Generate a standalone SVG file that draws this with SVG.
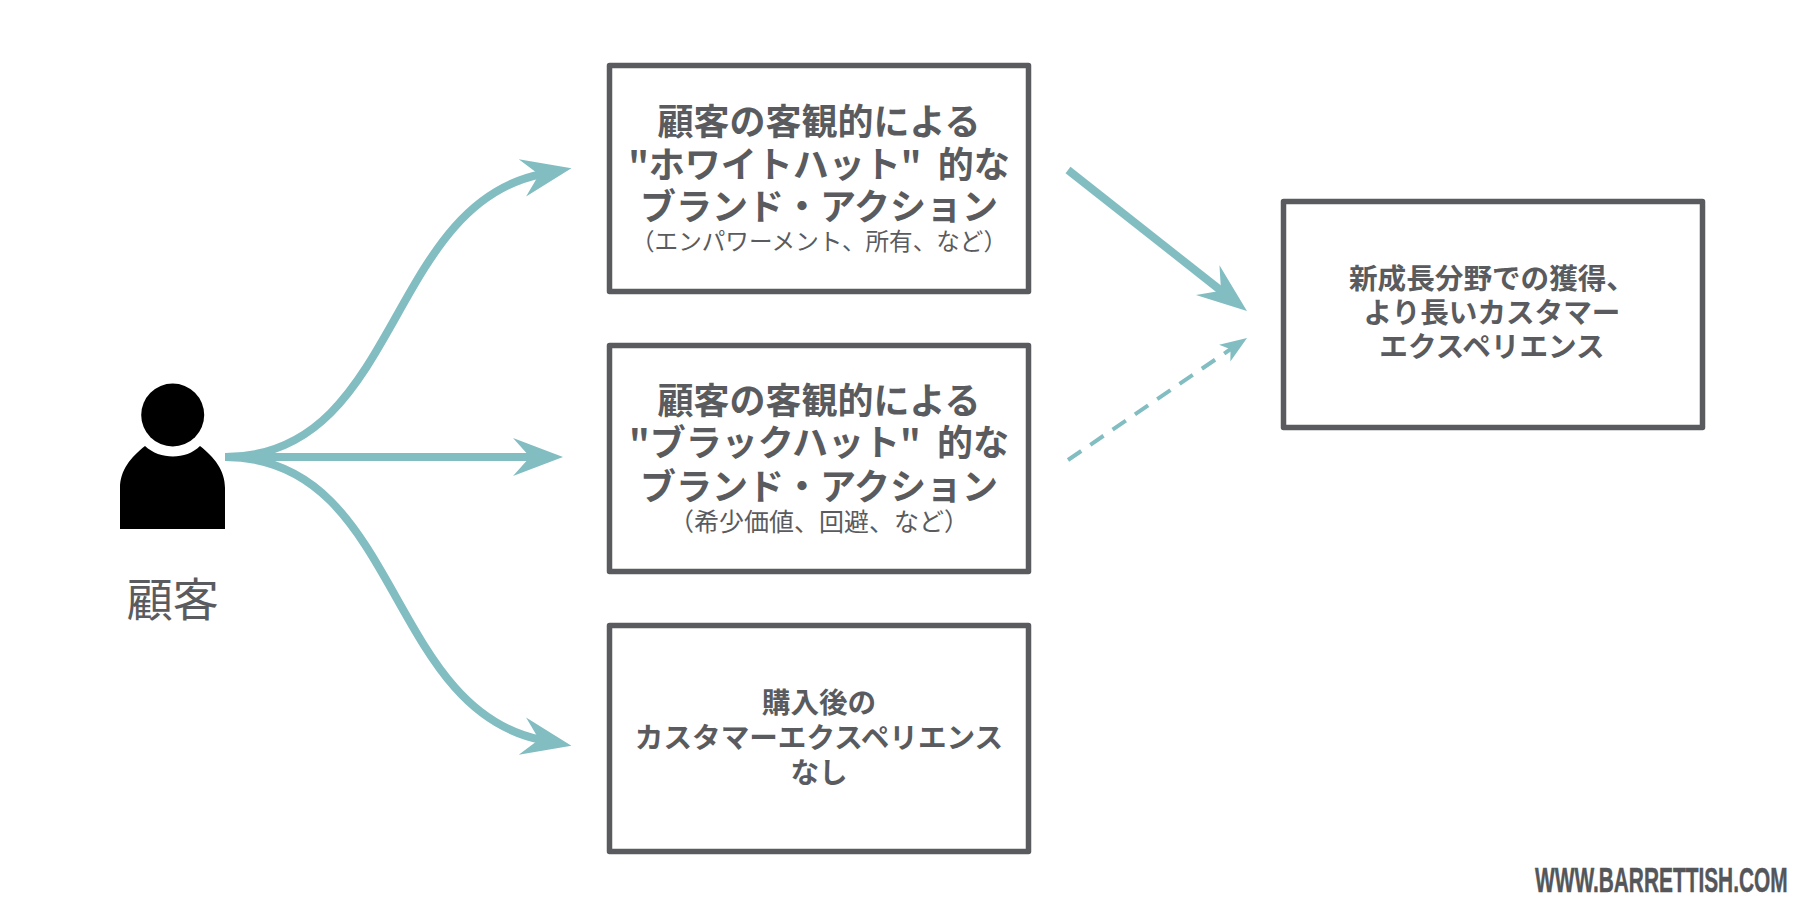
<svg xmlns="http://www.w3.org/2000/svg" width="1820" height="920" viewBox="0 0 1820 920">
<style>
.box{fill:#fff;stroke:#5a5b5e;stroke-width:5.5;stroke-linejoin:round}
text{font-family:"Noto Sans CJK JP","Noto Sans",sans-serif;fill:#5a5b5e;text-anchor:middle}
.h{font-size:36px;font-weight:700}
.m{font-size:28.6px;font-weight:700}
.s{font-size:23.6px;font-weight:400}
.c{fill:none;stroke:#82bdc2;stroke-width:8}
.d{fill:none;stroke:#82bdc2;stroke-width:4;stroke-dasharray:16 11}
</style>
<defs>
<marker id="head" markerUnits="userSpaceOnUse" markerWidth="54" markerHeight="42" refX="20" refY="21" orient="auto"><path d="M0 2L50 21L0 40L17 21Z" fill="#82bdc2"/></marker>
<marker id="headS" markerUnits="userSpaceOnUse" markerWidth="30" markerHeight="24" refX="10" refY="12" orient="auto"><path d="M0 2L27 12L0 22L7 12Z" fill="#82bdc2"/></marker>
</defs>
<rect width="1820" height="920" fill="#fff"/>
<g id="connectors">
<path class="c" marker-end="url(#head)" d="M225 457C400 457 385 205 542 174"/>
<path class="c" marker-end="url(#head)" d="M225 457H533"/>
<path class="c" marker-end="url(#head)" d="M225 457C400 457 385 709 542 740"/>
<path class="c" marker-end="url(#head)" d="M1068 170L1223.4 292.5"/>
<path class="d" marker-end="url(#headS)" d="M1068 460L1233 347.5"/>
</g>
<g id="customer">
<circle cx="172.7" cy="415" r="31.5" fill="#000"/>
<path fill="#000" d="M120 529V488C120 470 131 457 145 446C160 460 186 460 200 446C214 457 225 470 225 488V529Z"/>
<text x="172.7" y="616" style="font-size:46px">顧客</text>
</g>
<g id="white-hat">
<rect class="box" x="609.5" y="65.5" width="419" height="226"/>
<text class="h" x="819" y="135">顧客の客観的による</text>
<text class="h" x="819" y="178">"ホワイトハット"&#160;&#160;的な</text>
<text class="h" x="819" y="220">ブランド・アクション</text>
<text class="s" x="819" y="250">（エンパワーメント、所有、など）</text>
</g>
<g id="black-hat">
<rect class="box" x="609.5" y="345.5" width="419" height="226"/>
<text class="h" x="819" y="414">顧客の客観的による</text>
<text class="h" x="819" y="456">"ブラックハット"&#160;&#160;的な</text>
<text class="h" x="819" y="500">ブランド・アクション</text>
<text class="s" x="819" y="531" style="font-size:25px">（希少価値、回避、など）</text>
</g>
<g id="no-experience">
<rect class="box" x="609.5" y="625.5" width="419" height="226"/>
<text class="m" x="819" y="713">購入後の</text>
<text class="m" x="819" y="748">カスタマーエクスペリエンス</text>
<text class="m" x="819" y="783">なし</text>
</g>
<g id="result">
<rect class="box" x="1283.5" y="201.5" width="419" height="226"/>
<text class="m" x="1492" y="289">新成長分野での獲得、</text>
<text class="m" x="1492" y="323">より長いカスタマー</text>
<text class="m" x="1492" y="357">エクスペリエンス</text>
</g>
<g id="watermark">
<text transform="translate(1535 892) scale(.58 1)" x="0" y="0" style="font-family:'Liberation Sans',sans-serif;font-size:36px;font-weight:700;fill:#54565a;text-anchor:start;stroke:#54565a;stroke-width:.5">WWW.BARRETTISH.COM</text>
</g>
</svg>
